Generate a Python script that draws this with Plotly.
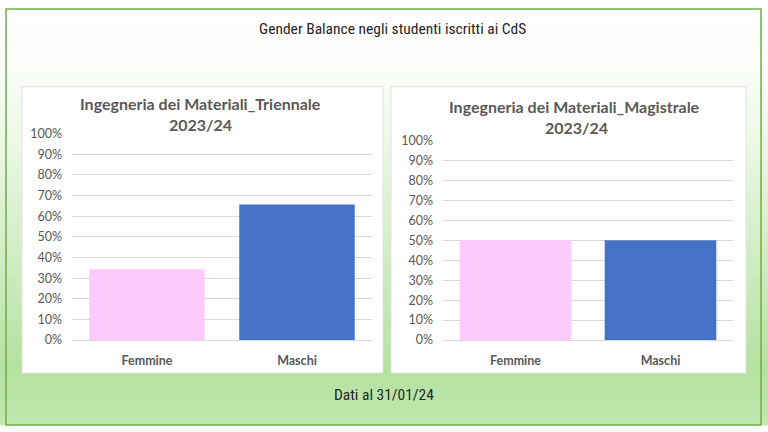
import plotly.graph_objects as go

# ---------------- data ----------------
categories = ["Femmine", "Maschi"]
triennale_share = [0.343, 0.657]
magistrale_share = [0.50, 0.50]
tick_vals = [0.0, 0.1, 0.2, 0.3, 0.4, 0.5, 0.6, 0.7, 0.8, 0.9, 1.0]
tick_text = ["0%", "10%", "20%", "30%", "40%", "50%", "60%", "70%", "80%", "90%", "100%"]
bar_colors = ["#fdcafd", "#4472c4"]

slide_title = "Gender Balance negli studenti iscritti ai CdS"
footer_text = "Dati al 31/01/24"
title_left = ["Ingegneria dei Materiali_Triennale", "2023/24"]
title_right = ["Ingegneria dei Materiali_Magistrale", "2023/24"]

W, H = 768, 432
def px(x):
    return x / W
def py(y):
    # vertical position helper (pixel from top -> paper fraction)
    y = (y - 7) / 0.968
    return min(1.0, max(0.0, 1 - y / H))

TEXT = "#595959"
FONT = "Lato, 'Open Sans', sans-serif"
NARROW = "'Liberation Sans Narrow', 'Roboto Condensed', Roboto, sans-serif"

fig = go.Figure()
fig.add_trace(go.Bar(x=categories, y=triennale_share, marker_color=bar_colors,
                     marker_line_width=0, width=0.77, xaxis="x", yaxis="y",
                     showlegend=False, hoverinfo="skip"))
fig.add_trace(go.Bar(x=categories, y=magistrale_share, marker_color=bar_colors,
                     marker_line_width=0, width=0.77, xaxis="x2", yaxis="y2",
                     showlegend=False, hoverinfo="skip"))

# ---------- background gradient (style only) ----------
stops = [(0, (255, 255, 255)), (60, (252, 254, 251)), (150, (234, 247, 227)),
         (250, (210, 237, 197)), (370, (180, 225, 160)), (440, (196, 234, 180))]
def col_at(y):
    for (y0, c0), (y1, c1) in zip(stops[:-1], stops[1:]):
        if y0 <= y <= y1:
            t = (y - y0) / (y1 - y0)
            return "rgb(%d,%d,%d)" % tuple(round(a + (b - a) * t) for a, b in zip(c0, c1))
    return "rgb(%d,%d,%d)" % stops[-1][1]

shapes = []
step = 4
for y in range(-8, H + 8, step):
    shapes.append(dict(type="rect", xref="paper", yref="paper", layer="below",
                       x0=0, x1=1, y0=py(y + step + 0.5), y1=py(y),
                       line_width=0, fillcolor=col_at(y + step / 2)))
# outer border
shapes.append(dict(type="rect", xref="paper", yref="paper", layer="below",
                   x0=px(6), x1=px(761), y0=py(428), y1=py(8),
                   line=dict(color="#70ad47", width=1.5), fillcolor="rgba(0,0,0,0)"))
# chart panels
for x0, x1 in [(22, 383), (391, 746)]:
    shapes.append(dict(type="rect", xref="paper", yref="paper", layer="below",
                       x0=px(x0), x1=px(x1), y0=py(373), y1=py(86),
                       line=dict(color="#e2e2e2", width=1), fillcolor="white"))

def ann(text, x, y, font):
    return dict(text=text, x=px(x), y=py(y), xref="paper", yref="paper",
                xanchor="center", yanchor="middle", showarrow=False, font=font)

title_font = dict(family=FONT, size=16, color=TEXT, weight="bold")
slide_font = dict(family=NARROW, size=15.5, color="#262626")
annotations = [
    ann(slide_title, 392, 28, slide_font),
    ann(footer_text, 384, 395, slide_font),
    ann(title_left[0], 200, 103, title_font),
    ann(title_left[1], 200, 124, title_font),
    ann(title_right[0], 574, 106, title_font),
    ann(title_right[1], 576, 127, title_font),
]

yax = dict(range=[0, 1], tickvals=tick_vals, ticktext=tick_text, showgrid=True,
           gridcolor="#d9d9d9", gridwidth=1, zeroline=False, showline=False,
           ticks="", ticklabelstandoff=9, fixedrange=True,
           tickfont=dict(family=FONT, size=12.5, color=TEXT))
xax = dict(showgrid=False, zeroline=False, showline=True, linecolor="#d9d9d9",
           ticks="", ticklabelstandoff=9, fixedrange=True,
           tickfont=dict(family=FONT, size=12.5, color=TEXT, weight="bold"))

fig.update_layout(
    width=W, height=H, margin=dict(l=0, r=0, t=0, b=0),
    paper_bgcolor="white", plot_bgcolor="rgba(0,0,0,0)",
    xaxis=dict(domain=[px(72), px(372)], **xax),
    yaxis=dict(domain=[py(340), py(133)], anchor="x", **yax),
    xaxis2=dict(domain=[px(443), px(733)], anchor="y2", **xax),
    yaxis2=dict(domain=[py(340), py(140)], anchor="x2", **yax),
    shapes=shapes, annotations=annotations, bargap=0.23,
)

fig.write_html("out.html", config={"displayModeBar": False},
               post_script="document.body.style.margin='0';document.body.style.overflow='hidden';")
